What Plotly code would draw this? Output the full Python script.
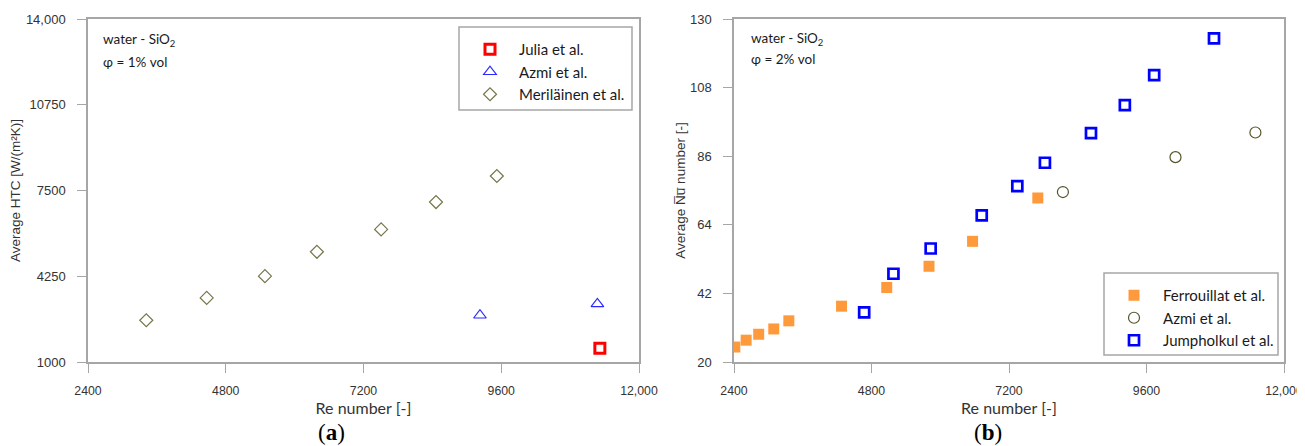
import plotly.graph_objects as go

# ---------------- data: panel (a) ----------------
julia_re = [11318]
julia_htc = [1519]
azmi_a_re = [9229, 11275]
azmi_a_htc = [2772, 3202]
meri_re = [3415, 4468, 5483, 6388, 7507, 8463, 9523]
meri_htc = [2582, 3430, 4253, 5177, 6025, 7063, 8050]

# ---------------- data: panel (b) ----------------
ferr_re = [2415, 2612, 2831, 3094, 3357, 4277, 5066, 5804, 6564, 7703]
ferr_nu = [24.8, 27.0, 28.9, 30.6, 33.2, 37.9, 43.9, 50.7, 58.7, 72.6]
azmi_b_re = [8141, 10106, 11501]
azmi_b_nu = [74.5, 85.7, 93.6]
jump_re = [4672, 5183, 5833, 6724, 7345, 7827, 8631, 9222, 9734, 10778]
jump_nu = [35.9, 48.3, 56.4, 67.0, 76.4, 83.9, 93.4, 102.4, 112.0, 123.8]

x_ticks = [2400, 4800, 7200, 9600, 12000]
x_ticktext = ["2400", "4800", "7200", "9600", "12,000"]
ya_ticks = [1000, 4250, 7500, 10750, 14000]
ya_ticktext = ["1000", "4250", "7500", "10750", "14,000"]
yb_ticks = [20, 42, 64, 86, 108, 130]
yb_ticktext = ["20", "42", "64", "86", "108", "130"]

# page offset of the figure (default body margin) -> figure fills the rest of the window
OX, OY = 8, 8
W, H = 1305 - OX, 446 - OY


def px(x):
    return (x - OX) / W


def py(y):
    return (H - (y - OY)) / H


LEG_FONT = dict(family="Lato, Open Sans, sans-serif", size=15, color="#1a1a1a")
FRAME = "#a6a6a6"

fig = go.Figure()

# panel (a)
fig.add_trace(go.Scatter(x=julia_re, y=julia_htc, mode="markers", name="Julia et al.",
                         legendgroup="a1",
                         marker=dict(symbol="square-open", size=10, color="#FF0000",
                                     line=dict(width=3, color="#FF0000")),
                         xaxis="x", yaxis="y", legend="legend"))
fig.add_trace(go.Scatter(x=azmi_a_re, y=azmi_a_htc, mode="markers", name="Azmi et al.",
                         legendgroup="a2",
                         marker=dict(symbol="triangle-up-open", size=11, color="#2a2aff",
                                     line=dict(width=1.2, color="#2a2aff")),
                         xaxis="x", yaxis="y", legend="legend"))
fig.add_trace(go.Scatter(x=meri_re, y=meri_htc, mode="markers", name="Meriläinen et al.",
                         legendgroup="a3",
                         marker=dict(symbol="diamond-open", size=10, color="#76764a",
                                     line=dict(width=1.2, color="#76764a")),
                         xaxis="x", yaxis="y", legend="legend"))

# panel (b)
fig.add_trace(go.Scatter(x=ferr_re, y=ferr_nu, mode="markers", name="Ferrouillat et al.",
                         legendgroup="b1",
                         marker=dict(symbol="square", size=11, color="#FF9A3C",
                                     line=dict(width=0)),
                         xaxis="x2", yaxis="y2", legend="legend2"))
fig.add_trace(go.Scatter(x=azmi_b_re, y=azmi_b_nu, mode="markers", name="Azmi et al.",
                         legendgroup="b2",
                         marker=dict(symbol="circle-open", size=11, color="#55552a",
                                     line=dict(width=1.2, color="#55552a")),
                         xaxis="x2", yaxis="y2", legend="legend2"))
fig.add_trace(go.Scatter(x=jump_re, y=jump_nu, mode="markers", name="Jumpholkul et al.",
                         legendgroup="b3",
                         marker=dict(symbol="square-open", size=10, color="#0000FF",
                                     line=dict(width=2.7, color="#0000FF")),
                         xaxis="x2", yaxis="y2", legend="legend2"))

y_dom = [py(362), py(19)]
ytickfont = dict(family="Liberation Sans, Arial, sans-serif", size=13, color="#333333")
xtickfont = dict(family="Liberation Sans, Arial, sans-serif", size=12.3, color="#333333")
axis_common = dict(showgrid=False, zeroline=False, showline=True, linecolor=FRAME,
                   linewidth=1.5, mirror=True, ticks="outside", ticklen=9, tickwidth=1,
                   tickcolor=FRAME, automargin=False, ticklabeloverflow="allow")
xtitle_font = dict(family="Lato, sans-serif", size=16, color="#333333")
ytitle_font = dict(family="Liberation Sans, Arial, sans-serif", size=13.5, color="#333333")

fig.update_layout(
    template="none",
    width=W, height=H,
    margin=dict(l=0, r=0, t=0, b=0, autoexpand=False),
    paper_bgcolor="white", plot_bgcolor="white",
    xaxis=dict(domain=[px(88), px(639)], range=[2400, 12000], tickmode="array",
               tickvals=x_ticks, ticktext=x_ticktext, anchor="y", ticklabelstandoff=7,
               tickfont=xtickfont,
               title=dict(text="Re number [-]", standoff=2, font=xtitle_font),
               **axis_common),
    yaxis=dict(domain=y_dom, range=[1000, 14000], tickmode="array",
               tickvals=ya_ticks, ticktext=ya_ticktext, anchor="x", ticklabelstandoff=9,
               tickfont=ytickfont,
               title=dict(text="Average HTC [W/(m²K)]", standoff=3, font=ytitle_font),
               **axis_common),
    xaxis2=dict(domain=[px(734), px(1284)], range=[2400, 12000], tickmode="array",
                tickvals=x_ticks, ticktext=x_ticktext, anchor="y2", ticklabelstandoff=7,
                tickfont=xtickfont,
                title=dict(text="Re number [-]", standoff=2, font=xtitle_font),
                **axis_common),
    yaxis2=dict(domain=y_dom, range=[20, 130], tickmode="array",
                tickvals=yb_ticks, ticktext=yb_ticktext, anchor="x2", ticklabelstandoff=9,
                tickfont=ytickfont,
                title=dict(text="Average N\u0305u\u0305 number [-]", standoff=1,
                           font=ytitle_font),
                **axis_common),
    legend=dict(x=px(461), y=py(33), xanchor="left", yanchor="top",
                bgcolor="rgba(0,0,0,0)", borderwidth=0,
                font=LEG_FONT, itemwidth=48, tracegroupgap=0, itemsizing="trace"),
    legend2=dict(x=px(1105), y=py(279), xanchor="left", yanchor="top",
                 bgcolor="rgba(0,0,0,0)", borderwidth=0,
                 font=LEG_FONT, itemwidth=48, tracegroupgap=0, itemsizing="trace"),
    showlegend=True,
)

# legend frames
fig.add_shape(type="rect", xref="paper", yref="paper", x0=px(459), x1=px(632),
              y0=py(110), y1=py(27), line=dict(color=FRAME, width=1.5),
              fillcolor="white", layer="below")
fig.add_shape(type="rect", xref="paper", yref="paper", x0=px(1104), x1=px(1278),
              y0=py(355), y1=py(273), line=dict(color=FRAME, width=1.5),
              fillcolor="white", layer="below")

ann_font = dict(family="Lato, Open Sans, sans-serif", size=13.5, color="#1a1a1a")
annotations = [
    dict(x=px(101), y=py(40), text="water - SiO<sub>2</sub>"),
    dict(x=px(101), y=py(62), text="φ = 1% vol"),
    dict(x=px(749), y=py(39), text="water - SiO<sub>2</sub>"),
    dict(x=px(749), y=py(59), text="φ = 2% vol"),
]
for a in annotations:
    fig.add_annotation(xref="paper", yref="paper", xanchor="left", yanchor="middle",
                       showarrow=False, font=ann_font, **a)

lab_font = dict(family="Liberation Serif, DejaVu Serif, serif", size=23, color="black")
fig.add_annotation(xref="paper", yref="paper", x=px(331), y=py(432), text="(<b>a</b>)",
                   showarrow=False, font=lab_font, xanchor="center", yanchor="middle")
fig.add_annotation(xref="paper", yref="paper", x=px(988), y=py(432), text="(<b>b</b>)",
                   showarrow=False, font=lab_font, xanchor="center", yanchor="middle")

fig.write_html("out.html")
